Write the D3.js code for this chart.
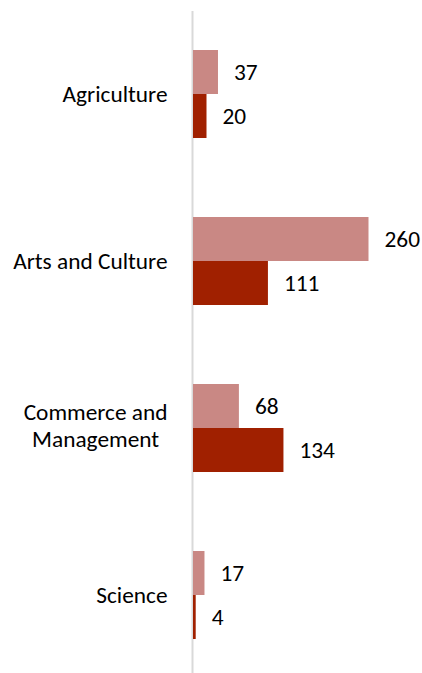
<!DOCTYPE html>
<html>
<head>
<meta charset="utf-8">
<script src="https://cdn.jsdelivr.net/npm/d3@7"></script>
<style>
  html, body { margin: 0; padding: 0; background: #fff; }
  svg { display: block; }
  text { font-family: Carlito, Calibri, Lato, sans-serif; fill: #000; }
</style>
</head>
<body>
<script>
const categories = ["Agriculture", "Arts and Culture", "Commerce and Management", "Science"];
const seriesNames = ["Series 1", "Series 2"];
const series1 = [37, 260, 68, 17];
const series2 = [20, 111, 134, 4];
const seriesColors = ["#C98884", "#A02000"];

const W = 422, H = 673;
const svg = d3.select("body").append("svg").attr("width", W).attr("height", H);

// font size fitted to the reference label width
const probe = svg.append("text").attr("font-size", 100).text("Agriculture");
const fs = 100 * 105 / probe.node().getComputedTextLength();
probe.remove();

const x = d3.scaleLinear().domain([0, 300]).range([193, 395.5]);
const y = d3.scaleBand().domain(categories).range([10.5, 678.5])
  .paddingInner(0.473).paddingOuter(0.2365);
const ySub = d3.scaleBand().domain(seriesNames).range([0, y.bandwidth()]);

const data = categories.map((c, i) => ({
  cat: c,
  vals: [series1[i], series2[i]].map((v, j) => ({ name: seriesNames[j], v, color: seriesColors[j] }))
}));

// axis line
const axis = d3.axisLeft(y).tickSize(0).tickSizeOuter(0).tickFormat("");
const gAx = svg.append("g").attr("transform", "translate(192,0)").call(axis);
gAx.select(".domain").attr("stroke", "#d9d9d9").attr("stroke-width", 2);

const groups = svg.append("g").selectAll("g").data(data).join("g")
  .attr("transform", d => `translate(0,${y(d.cat)})`);

groups.selectAll("rect").data(d => d.vals).join("rect")
  .attr("x", x(0))
  .attr("y", d => ySub(d.name))
  .attr("width", d => x(d.v) - x(0))
  .attr("height", ySub.bandwidth())
  .attr("fill", d => d.color);

groups.selectAll("text.val").data(d => d.vals).join("text")
  .attr("class", "val")
  .attr("x", d => x(d.v) + 16)
  .attr("y", d => ySub(d.name) + ySub.bandwidth() / 2)
  .attr("dy", "0.36em")
  .attr("font-size", fs)
  .text(d => d.v);

// category labels, wrapped, block right-aligned
const right = 167.5, maxW = 160, lh = 27;
data.forEach(d => {
  const cy = y(d.cat) + y.bandwidth() / 2;
  const words = d.cat.split(" ");
  const t = svg.append("text").attr("font-size", fs);
  const lines = [];
  let cur = [];
  words.forEach(w => {
    const test = cur.concat([w]).join(" ");
    t.text(test);
    if (t.node().getComputedTextLength() > maxW && cur.length) {
      lines.push(cur.join(" "));
      cur = [w];
    } else cur.push(w);
  });
  lines.push(cur.join(" "));
  const widths = lines.map(l => { t.text(l); return t.node().getComputedTextLength(); });
  const mw = d3.max(widths);
  t.text(null);
  if (lines.length === 1) {
    t.attr("text-anchor", "end").attr("x", right).attr("y", cy).attr("dy", "0.36em").text(lines[0]);
  } else {
    const off = -3;
    const top = cy + off - (lines.length - 1) * lh / 2;
    t.attr("text-anchor", "middle");
    lines.forEach((l, k) => {
      t.append("tspan").attr("x", right - mw / 2).attr("y", top + k * lh).attr("dy", "0.36em").text(l);
    });
  }
});
</script>
</body>
</html>
